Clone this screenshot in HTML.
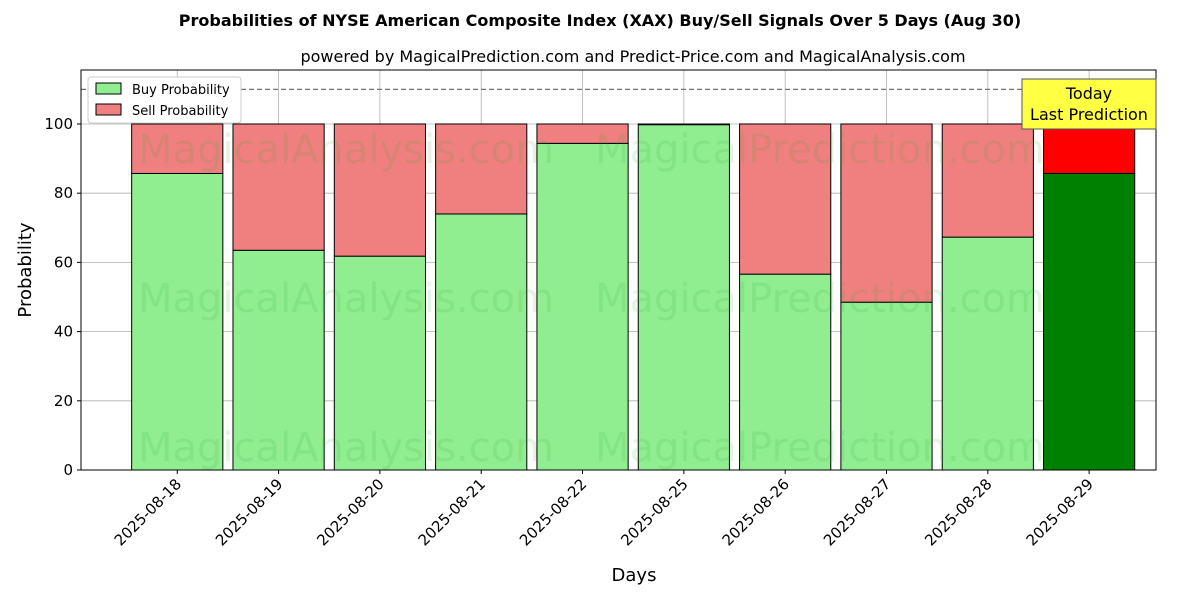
<!DOCTYPE html>
<html><head><meta charset="utf-8"><style>
body{margin:0;background:#fff;}
svg{display:block;font-family:"DejaVu Sans","Liberation Sans",sans-serif;}
</style></head><body>
<svg id="chart" width="1200" height="600" viewBox="0 0 1200 600">
<rect width="1200" height="600" fill="#fff"/>
<text x="600" y="26" text-anchor="middle" font-size="16" font-weight="bold">Probabilities of NYSE American Composite Index (XAX) Buy/Sell Signals Over 5 Days (Aug 30)</text>
<text x="633" y="62" text-anchor="middle" font-size="16">powered by MagicalPrediction.com and Predict-Price.com and MagicalAnalysis.com</text>
<g id="grid"></g>
<g id="bars"></g>
<g id="wm" font-size="40" fill="#2ca02c" opacity="0.12" text-anchor="middle">
<text x="346" y="163">MagicalAnalysis.com</text><text x="820" y="163">MagicalPrediction.com</text>
<text x="346" y="312">MagicalAnalysis.com</text><text x="820" y="312">MagicalPrediction.com</text>
<text x="346" y="461">MagicalAnalysis.com</text><text x="820" y="461">MagicalPrediction.com</text>
</g>
<g id="axes"></g>
<rect x="81" y="70" width="1075" height="400" fill="none" stroke="#000" stroke-width="1"/>
<g>
<rect x="88" y="77" width="153" height="46" fill="#fff" stroke="#ccc" rx="3"/>
<rect x="96" y="83" width="25" height="11" fill="#90ee90" stroke="#000"/>
<text x="132" y="94" font-size="13">Buy Probability</text>
<rect x="96" y="104" width="25" height="11" fill="#f08080" stroke="#000"/>
<text x="132" y="115" font-size="13">Sell Probability</text>
</g>
<g>
<rect x="1022" y="79" width="134" height="50" fill="#ffff44" stroke="#555"/>
<text x="1089" y="99" text-anchor="middle" font-size="16">Today</text>
<text x="1089" y="120" text-anchor="middle" font-size="16">Last Prediction</text>
</g>
<text x="634" y="581" text-anchor="middle" font-size="18">Days</text>
<text transform="translate(31,270) rotate(-90)" text-anchor="middle" font-size="18">Probability</text>
</svg>
<script>
const categories=["2025-08-18","2025-08-19","2025-08-20","2025-08-21","2025-08-22","2025-08-25","2025-08-26","2025-08-27","2025-08-28","2025-08-29"];
const buyValues=[85.7,63.5,61.8,74.0,94.4,99.8,56.6,48.5,67.3,85.7];
const sellValues=[14.3,36.5,38.2,26.0,5.6,0.2,43.4,51.5,32.7,14.3];
const yTicks=[0,20,40,60,80,100];
const refLine=110;
const NS="http://www.w3.org/2000/svg";
const X0=81,X1=1156,Y0=470,Y1=70,xmin=-0.95,xmax=9.66,ymin=0,ymax=115.6;
const xs=i=>X0+(i-xmin)/(xmax-xmin)*(X1-X0);
const ys=v=>Y0-(v-ymin)/(ymax-ymin)*(Y0-Y1);
function mk(t,a,p){const e=document.createElementNS(NS,t);for(const k in a)e.setAttribute(k,a[k]);p.appendChild(e);return e;}
const grid=document.getElementById('grid'),bars=document.getElementById('bars'),axes=document.getElementById('axes');
yTicks.forEach(v=>{
 const l=mk('line',{x1:X0,x2:X1,y1:ys(v),y2:ys(v),stroke:'#b0b0b0','stroke-width':0.8},grid);
 
 
 mk('line',{x1:X0-4,x2:X0,y1:ys(v),y2:ys(v),stroke:'#000'},axes);
 const t=mk('text',{x:X0-8,y:ys(v)+5,'text-anchor':'end','font-size':15},axes);
 t.textContent=v;
 
 
});
categories.forEach((c,i)=>{
 const l=mk('line',{x1:xs(i),x2:xs(i),y1:Y1,y2:Y0,stroke:'#b0b0b0','stroke-width':0.8},grid);
 
 
 mk('line',{x1:xs(i),x2:xs(i),y1:Y0,y2:Y0+4,stroke:'#000'},axes);
 const t=mk('text',{transform:`translate(${xs(i)+5},${Y0+15}) rotate(-45)`,'text-anchor':'end','font-size':15},axes);
 t.textContent=c;
 
 
});
const rl=mk('line',{x1:X0,x2:X1,y1:ys(refLine),y2:ys(refLine),stroke:'#777','stroke-dasharray':'5,3','stroke-width':1.2},grid);


const bw=0.9*(xs(1)-xs(0));
categories.forEach((c,i)=>{
 const last=i===categories.length-1;
 const b=mk('rect',{x:xs(i)-bw/2,y:ys(buyValues[i]),width:bw,height:ys(0)-ys(buyValues[i]),fill:last?'#008000':'#90ee90',stroke:'#000','stroke-width':1},bars);
 
 
 const s=mk('rect',{x:xs(i)-bw/2,y:ys(buyValues[i]+sellValues[i]),width:bw,height:ys(buyValues[i])-ys(buyValues[i]+sellValues[i]),fill:last?'#ff0000':'#f08080',stroke:'#000','stroke-width':1},bars);
 
 
});
</script>
</body></html>
